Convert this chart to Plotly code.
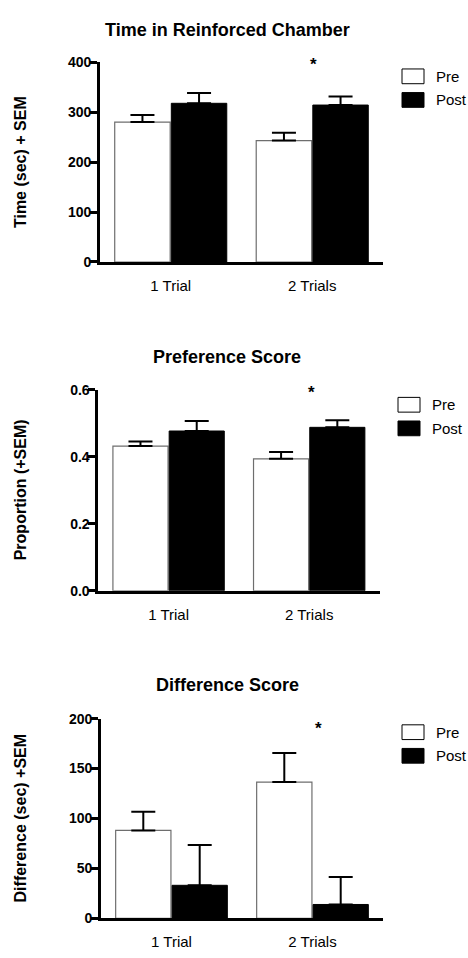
import plotly.graph_objects as go

# ---- data -------------------------------------------------------------
categories = ["1 Trial", "2 Trials"]

time_pre = [280, 243]
time_pre_sem = [14, 15.5]
time_post = [317.5, 314]
time_post_sem = [20.5, 17]

pref_pre = [0.432, 0.394]
pref_pre_sem = [0.014, 0.020]
pref_post = [0.477, 0.488]
pref_post_sem = [0.030, 0.021]

diff_pre = [88, 136.4]
diff_pre_sem = [18.8, 29.1]
diff_post = [33, 13.8]
diff_post_sem = [40.3, 27.6]

panel_titles = ["Time in Reinforced Chamber", "Preference Score", "Difference Score"]
y_titles = ["Time (sec) + SEM", "Proportion (+SEM)", "Difference (sec) +SEM"]
y_ranges = [[0, 400], [0, 0.6], [0, 200]]
y_dticks = [100, 0.2, 50]
y_formats = ["d", ".1f", "d"]
star_y = [405, 0.607, 195]
star_category = "2 Trials"

panels = [
    (time_pre, time_pre_sem, time_post, time_post_sem),
    (pref_pre, pref_pre_sem, pref_post, pref_post_sem),
    (diff_pre, diff_pre_sem, diff_post, diff_post_sem),
]

# ---- layout geometry (pixels on a 468 x 958 page) ---------------------
W, H = 468, 958
FONT = "Liberation Sans, Arial, Helvetica, sans-serif"

# left, right, bottom(y=0), top(y=max) of each plot area
boxes = [
    (100, 383, 258.3, 55.0),
    (98.3, 379.5, 592.7, 388.3),
    (101, 383, 925.7, 722.7),
]
title_y = [22, 355, 688]
legend_left = [402, 398, 402]
legend_top = [62, 396, 729]
star_xshift = [1, 2, 6]


def px(x):
    return x / W


def py(y):
    return 1 - y / H


fig = go.Figure()
annotations = []
shapes = []

for i, (pre, pre_sem, post, post_sem) in enumerate(panels):
    n = "" if i == 0 else str(i + 1)
    xa, ya = "x" + n, "y" + n
    fig.add_trace(go.Bar(
        x=categories, y=pre, name="Pre", xaxis=xa, yaxis=ya,
        marker=dict(color="white", line=dict(color="#6e6e6e", width=1.2)),
        error_y=dict(type="data", array=pre_sem, arrayminus=[0] * len(pre),
                     symmetric=False, color="black", thickness=2, width=12),
        showlegend=False,
    ))
    fig.add_trace(go.Bar(
        x=categories, y=post, name="Post", xaxis=xa, yaxis=ya,
        marker=dict(color="black", line=dict(color="black", width=1)),
        error_y=dict(type="data", array=post_sem, arrayminus=[0] * len(post),
                     symmetric=False, color="black", thickness=2, width=12),
        showlegend=False,
    ))

    left, right, bottom, top = boxes[i]
    fig.update_layout(**{
        "xaxis" + n: dict(
            domain=[px(left), px(right)], anchor=ya, range=[-0.5, 1.5],
            showline=True, linecolor="black", linewidth=2.8,
            ticks="", ticklabelstandoff=8, showgrid=False, zeroline=False,
            tickfont=dict(family=FONT, size=15, color="black"),
        ),
        "yaxis" + n: dict(
            domain=[py(bottom), py(top)], anchor=xa, range=y_ranges[i],
            dtick=y_dticks[i], tick0=0, tickformat=y_formats[i],
            showline=True, linecolor="black", linewidth=2.8,
            ticks="outside", ticklen=7, tickwidth=2.5, tickcolor="black",
            ticklabelstandoff=-4,
            showgrid=False, zeroline=False,
            tickfont=dict(family=FONT, size=14, color="black", weight="bold"),
        ),
    })

    # panel title
    annotations.append(dict(
        text="<b>%s</b>" % panel_titles[i], x=px(227), y=py(title_y[i]),
        xref="paper", yref="paper", xanchor="center", yanchor="middle",
        showarrow=False, font=dict(family=FONT, size=18, color="black"),
    ))
    # y-axis title
    annotations.append(dict(
        text="<b>%s</b>" % y_titles[i], x=px(20), y=py((top + bottom) / 2),
        xref="paper", yref="paper", xanchor="center", yanchor="middle",
        textangle=-90, showarrow=False,
        font=dict(family=FONT, size=16, color="black"),
    ))
    # significance marker (placed over the axis top, so positioned in paper units)
    ymax = y_ranges[i][1]
    star_px = bottom - star_y[i] / ymax * (bottom - top)
    annotations.append(dict(
        text="<b>*</b>", x=star_category, y=py(star_px + 5), xref=xa, yref="paper",
        xanchor="center", yanchor="middle", xshift=star_xshift[i], showarrow=False,
        font=dict(family=FONT, size=17, color="black"),
    ))

    # legend swatches and labels
    lx, lt = legend_left[i], legend_top[i]
    for j, (label, fill) in enumerate([("Pre", "white"), ("Post", "black")]):
        y0 = lt + j * 24
        shapes.append(dict(
            type="rect", xref="paper", yref="paper",
            x0=px(lx), x1=px(lx + 22), y0=py(y0 + 15), y1=py(y0),
            fillcolor=fill, line=dict(color="black", width=1),
        ))
        annotations.append(dict(
            text=label, x=px(lx + 32), y=py(y0 + 7.5),
            xref="paper", yref="paper", xanchor="left", yanchor="middle",
            showarrow=False, font=dict(family=FONT, size=15, color="black"),
        ))

fig.update_layout(
    width=W, height=H,
    margin=dict(l=0, r=0, t=0, b=0),
    paper_bgcolor="white", plot_bgcolor="white",
    barmode="group", bargap=0.2, bargroupgap=0.02,
    annotations=annotations, shapes=shapes,
    font=dict(family=FONT, color="black"),
)

fig.write_html("out.html")
